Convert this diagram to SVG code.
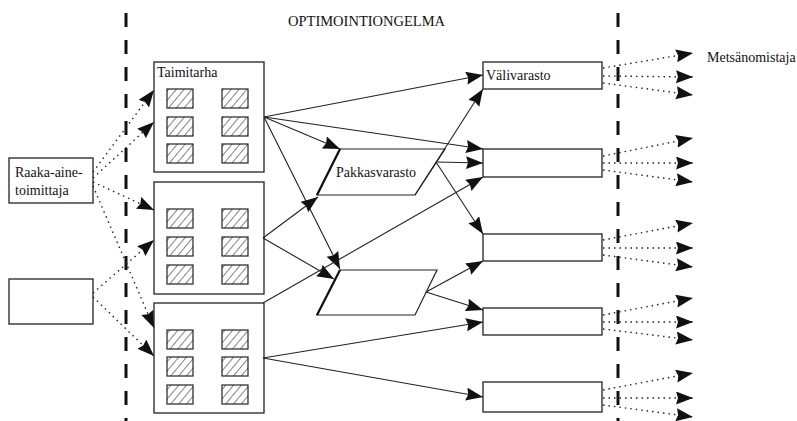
<svg xmlns="http://www.w3.org/2000/svg" width="797" height="421" viewBox="0 0 797 421">
<style>
.box{fill:#fff;stroke:#222;stroke-width:1.3}
.hat{fill:url(#hatch);stroke:#222;stroke-width:1.2}
.par{fill:#fff;stroke:#222;stroke-width:1.2}
.edge{fill:none;stroke:#111;stroke-width:2.2}
text{font-family:'Liberation Serif','Times New Roman','DejaVu Serif',serif;font-size:14px;fill:#111}
.sol{fill:none;stroke:#222;stroke-width:1.1;marker-end:url(#ah)}
.dot{fill:none;stroke:#222;stroke-width:1.4;stroke-dasharray:1.5 4;marker-end:url(#ah)}
.div{fill:none;stroke:#111;stroke-width:3;stroke-dasharray:14 13}
</style>
<defs>
<pattern id="hatch" patternUnits="userSpaceOnUse" width="6" height="6" patternTransform="rotate(40)">
<rect width="6" height="6" fill="#fff"/>
<line x1="0" y1="0" x2="0" y2="6" stroke="#333" stroke-width="1.2"/>
</pattern>
<marker id="ah" markerUnits="userSpaceOnUse" markerWidth="18" markerHeight="14" refX="17" refY="6.5" orient="auto">
<path d="M0,0 L17,6.5 L0,13 L2,6.5 z" fill="#111"/>
</marker>
</defs>
<rect width="797" height="421" fill="#fff"/>
<g id="dividers">
<line class="div" x1="126" y1="13" x2="126" y2="421"/>
<line class="div" x1="618" y1="13" x2="618" y2="421"/>
</g>
<g id="title"><text x="288" y="26" font-family="'Liberation Serif', serif" style="font-size:14.5px">OPTIMOINTIONGELMA</text></g>
<g id="raaka">
<rect class="box" x="9" y="158" width="84" height="45"/>
<text x="15" y="177" font-family="'Liberation Serif', serif">Raaka-aine-</text>
<text x="15" y="195" font-family="'Liberation Serif', serif">toimittaja</text>
</g>
<g id="left2"><rect class="box" x="9" y="279" width="84" height="45"/></g>
<g id="taimitarha1">
<rect class="box" x="154" y="62" width="110" height="110"/>
<text x="157" y="77" font-family="'Liberation Serif', serif">Taimitarha</text>
<rect class="hat" x="167" y="89" width="26" height="19"/><rect class="hat" x="222" y="89" width="26" height="19"/>
<rect class="hat" x="167" y="117" width="26" height="19"/><rect class="hat" x="222" y="117" width="26" height="19"/>
<rect class="hat" x="167" y="144" width="26" height="19"/><rect class="hat" x="222" y="144" width="26" height="19"/>
</g>
<g id="taimitarha2">
<rect class="box" x="154" y="182" width="110" height="112"/>
<rect class="hat" x="167" y="209" width="26" height="19"/><rect class="hat" x="222" y="209" width="26" height="19"/>
<rect class="hat" x="167" y="237" width="26" height="19"/><rect class="hat" x="222" y="237" width="26" height="19"/>
<rect class="hat" x="167" y="265" width="26" height="19"/><rect class="hat" x="222" y="265" width="26" height="19"/>
</g>
<g id="taimitarha3">
<rect class="box" x="154" y="303" width="110" height="110"/>
<rect class="hat" x="167" y="330" width="26" height="19"/><rect class="hat" x="222" y="330" width="26" height="19"/>
<rect class="hat" x="167" y="357" width="26" height="19"/><rect class="hat" x="222" y="357" width="26" height="19"/>
<rect class="hat" x="167" y="385" width="26" height="19"/><rect class="hat" x="222" y="385" width="26" height="19"/>
</g>
<g id="pakkasvarasto">
<polygon class="par" points="340,149 445,149 415,195 317,195"/>
<line class="edge" x1="340" y1="149" x2="317" y2="195"/>
<text x="336" y="177" font-family="'Liberation Serif', serif">Pakkasvarasto</text>
</g>
<g id="varasto2">
<polygon class="par" points="340,270 437,270 415,315 317,315"/>
<line class="edge" x1="340" y1="270" x2="317" y2="315"/>
</g>
<g id="valivarasto">
<rect class="box" x="483" y="62" width="119" height="27"/>
<text x="486" y="80" font-family="'Liberation Serif', serif">Välivarasto</text>
</g>
<g id="r2"><rect class="box" x="483" y="149" width="119" height="28"/></g>
<g id="r3"><rect class="box" x="483" y="234" width="119" height="27"/></g>
<g id="r4"><rect class="box" x="483" y="308" width="119" height="27"/></g>
<g id="r5"><rect class="box" x="483" y="382" width="119" height="30"/></g>
<g id="metsanomistaja"><text x="707" y="62" font-family="'Liberation Serif', serif">Metsänomistaja</text></g>
<g id="connectors">
<line class="sol" x1="264" y1="117" x2="483" y2="75"/>
<line class="sol" x1="264" y1="117" x2="483" y2="149"/>
<line class="sol" x1="264" y1="117" x2="340" y2="149"/>
<line class="sol" x1="264" y1="117" x2="340" y2="269"/>
<line class="sol" x1="263" y1="238" x2="318" y2="197"/>
<line class="sol" x1="263" y1="238" x2="334" y2="279"/>
<line class="sol" x1="263" y1="303" x2="483" y2="177"/>
<line class="sol" x1="263" y1="358" x2="483" y2="322"/>
<line class="sol" x1="263" y1="358" x2="483" y2="397"/>
<line class="sol" x1="415" y1="195" x2="483" y2="89"/>
<line class="sol" x1="436" y1="162" x2="483" y2="163"/>
<line class="sol" x1="436" y1="162" x2="483" y2="234"/>
<line class="sol" x1="426" y1="292" x2="483" y2="261"/>
<line class="sol" x1="426" y1="292" x2="483" y2="310"/>
<line class="dot" x1="93" y1="172" x2="154" y2="90"/>
<line class="dot" x1="93" y1="178" x2="154" y2="122"/>
<line class="dot" x1="93" y1="182" x2="154" y2="210"/>
<line class="dot" x1="93" y1="186" x2="154" y2="328"/>
<line class="dot" x1="93" y1="293" x2="154" y2="240"/>
<line class="dot" x1="93" y1="297" x2="154" y2="356"/>
<line class="dot" x1="603" y1="68" x2="693" y2="53"/>
<line class="dot" x1="603" y1="76" x2="693" y2="77"/>
<line class="dot" x1="603" y1="83" x2="693" y2="95"/>
<line class="dot" x1="603" y1="156" x2="693" y2="138"/>
<line class="dot" x1="603" y1="163" x2="693" y2="163"/>
<line class="dot" x1="603" y1="170" x2="693" y2="182"/>
<line class="dot" x1="603" y1="240" x2="693" y2="223"/>
<line class="dot" x1="603" y1="248" x2="693" y2="248"/>
<line class="dot" x1="603" y1="255" x2="693" y2="267"/>
<line class="dot" x1="603" y1="315" x2="693" y2="298"/>
<line class="dot" x1="603" y1="322" x2="693" y2="322"/>
<line class="dot" x1="603" y1="329" x2="693" y2="340"/>
<line class="dot" x1="603" y1="390" x2="693" y2="373"/>
<line class="dot" x1="603" y1="398" x2="693" y2="398"/>
<line class="dot" x1="603" y1="405" x2="693" y2="417"/>
</g>
</svg>
